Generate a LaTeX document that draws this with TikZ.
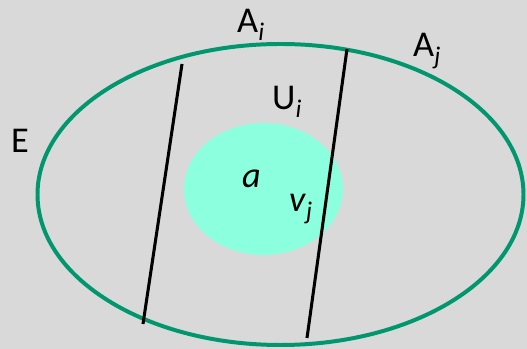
\documentclass[tikz,border=0pt]{standalone}
\usepackage{fontspec}
\setmainfont{Carlito}
\usepackage{xcolor}
\definecolor{bggray}{RGB}{217,217,217}
\definecolor{setgreen}{RGB}{0,150,110}
\definecolor{aqua}{RGB}{140,255,222}
\usetikzlibrary{positioning}
\tikzset{
  lbl/.style={anchor=base west,inner sep=0pt,font=\fontsize{31}{34}\selectfont},
  setline/.style={draw=setgreen,line width=3.4pt},
  cut/.style={draw=black,line width=2.6pt},
}
\begin{document}
\begin{tikzpicture}[x=0.03cm,y=-0.03cm]
    \fill[bggray] (0,0) rectangle (527,349);
    \useasboundingbox (0,0) rectangle (527,349);

    % sets
    \fill[aqua] (263.5,189) ellipse [x radius=79.5,y radius=66];
    \draw[setline] (280.5,194.5) ellipse [x radius=243,y radius=150.5];

    % cuts
    \coordinate (c1t) at (182,64);
    \coordinate (c1b) at (143,324);
    \coordinate (c2t) at (347,49);
    \coordinate (c2b) at (307,338);
    \draw[cut] (c1t) -- (c1b);
    \draw[cut] (c2t) -- (c2b);

    % labels
    \node[lbl] (Ai) at (237,33)  {A\textsubscript{\textit{i}}};
    \node[lbl] (Aj) at (413,57)  {A\textsubscript{\textit{j}}};
    \node[lbl] (Ui) at (272,110) {U\textsubscript{\textit{i}}};
    \node[lbl] (E)  at (11,153)  {E};
    \node[lbl] (a)  at (242,188) {\textit{a}};
    \node[lbl] (vj) at (289,212) {\textit{v}\textsubscript{\textit{j}}};
\end{tikzpicture}
\end{document}
